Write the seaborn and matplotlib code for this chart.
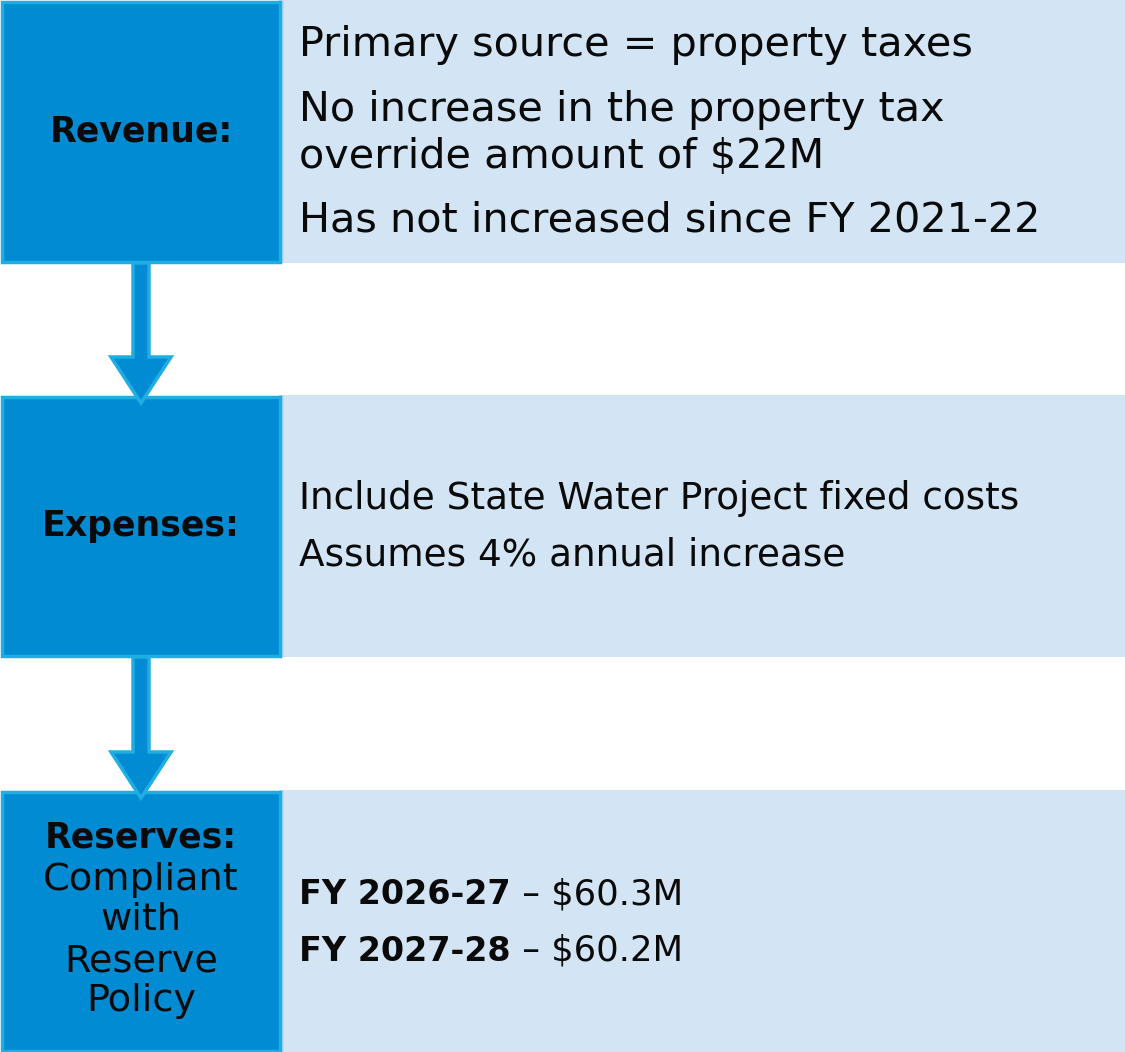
import matplotlib
matplotlib.use("Agg")
import matplotlib.pyplot as plt
import seaborn as sns
from matplotlib.patches import Rectangle, Polygon

sns.set_theme(style="white")
plt.rcParams['font.family'] = ['DejaVu Sans']

# ---- data ----
section_names = ["Revenue", "Expenses", "Reserves"]
section_tops = [0, 395, 790]
section_bottoms = [263, 657, 1052]

revenue_lines = ["Primary source = property taxes",
                 "No increase in the property tax",
                 "override amount of $22M",
                 "Has not increased since FY 2021-22"]
revenue_baselines = [56, 121, 168, 232]

expenses_lines = ["Include State Water Project fixed costs",
                  "Assumes 4% annual increase"]
expenses_baselines = [509, 566]

reserve_years = ["FY 2026-27", "FY 2027-28"]
reserve_amounts = ["$60.3M", "$60.2M"]
reserve_baselines = [904, 961]

left_labels = ["Revenue:", "Expenses:", "Reserves:"]
left_label_centers = [131, 526, 838]
reserves_sub = ["Compliant", "with", "Reserve", "Policy"]
reserves_sub_centers = [880, 920, 961, 1001]

# ---- colors ----
DARK = "#008BD2"
EDGE = "#1FAEE4"
PANEL = "#D3E5F4"
PANEL_EDGE = "#BCDBF2"
TXT = "#0A0A0A"

W, H = 1125, 1052
fig = plt.figure(figsize=(W / 100, H / 100), dpi=100)
ax = fig.add_axes([0, 0, 1, 1])
ax.set_xlim(0, W)
ax.set_ylim(H, 0)
ax.axis("off")

for top, bot in zip(section_tops, section_bottoms):
    ax.add_patch(Rectangle((280, top), W - 280, bot - top, facecolor=PANEL, edgecolor="none", zorder=1))
    ax.add_patch(Rectangle((279, top), 5, bot - top, facecolor=PANEL_EDGE, edgecolor="none", zorder=1.5))
    ax.add_patch(Rectangle((1.5, top + 1.5), 278, bot - top - 3, facecolor=DARK, edgecolor=EDGE, lw=2.5, zorder=2))

# arrows between boxes
for bot, nxt in zip(section_bottoms[:-1], section_tops[1:]):
    head_top = nxt - 38
    tip = nxt + 8
    pts = [(133, bot), (149, bot), (149, head_top), (171, head_top), (141, tip),
           (111, head_top), (133, head_top)]
    ax.add_patch(Polygon(pts, closed=True, facecolor=DARK, edgecolor=EDGE, lw=2.5,
                         joinstyle="miter", zorder=3))

for s, y in zip(revenue_lines, revenue_baselines):
    ax.text(299, y, s, fontsize=29.8, color=TXT, va="baseline", ha="left", zorder=5)

for s, y in zip(expenses_lines, expenses_baselines):
    ax.text(299, y, s, fontsize=26.9, color=TXT, va="baseline", ha="left", zorder=5)

for yr, amt, y in zip(reserve_years, reserve_amounts, reserve_baselines):
    t = ax.text(299, y, yr, fontsize=24, fontweight="bold", color=TXT, va="baseline", ha="left", zorder=5)
    ax.annotate(" \u2013 " + amt, xy=(1, 0), xycoords=t, fontsize=25.5, color=TXT,
                va="bottom", ha="left", zorder=5)

# left labels
for s, y in zip(left_labels, left_label_centers):
    ax.text(141, y, s, fontsize=25, fontweight="bold", color=TXT, ha="center", va="center", zorder=5)
for s, y in zip(reserves_sub, reserves_sub_centers):
    ax.text(141, y, s, fontsize=27.5, color=TXT, ha="center", va="center", zorder=5)

fig.savefig("out.png", dpi=100, facecolor="white")
